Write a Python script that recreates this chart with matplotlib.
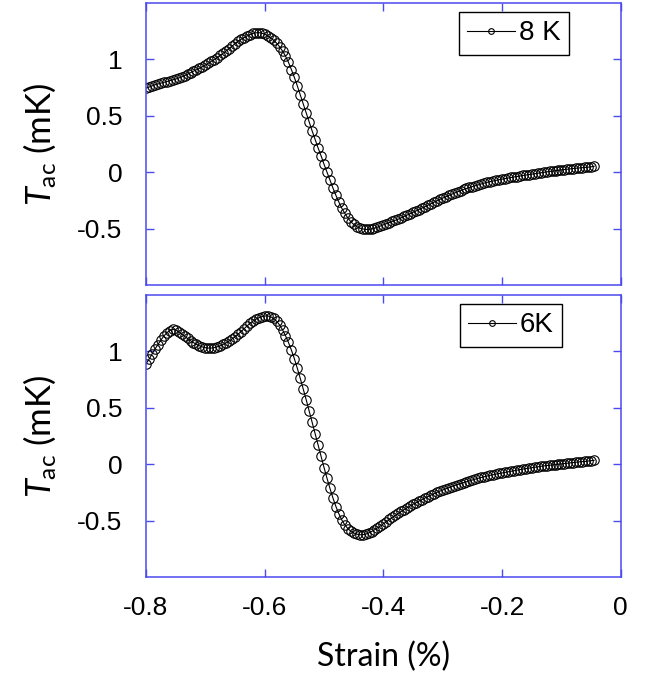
import matplotlib
matplotlib.use("Agg")
import matplotlib.pyplot as plt

plt.rcParams['axes.unicode_minus'] = False
plt.rcParams['mathtext.fontset'] = 'custom'
plt.rcParams['mathtext.rm'] = 'Lato'
plt.rcParams['mathtext.it'] = 'Lato:italic'

strain = [
    -0.800, -0.795, -0.790, -0.785, -0.780, -0.775, -0.770, -0.765, -0.760, -0.755,
    -0.750, -0.745, -0.740, -0.735, -0.730, -0.725, -0.720, -0.715, -0.710, -0.705,
    -0.700, -0.695, -0.690, -0.685, -0.680, -0.675, -0.670, -0.665, -0.660, -0.655,
    -0.650, -0.645, -0.640, -0.635, -0.630, -0.625, -0.620, -0.615, -0.610, -0.605,
    -0.600, -0.595, -0.590, -0.585, -0.580, -0.575, -0.570, -0.565, -0.560, -0.555,
    -0.550, -0.545, -0.540, -0.535, -0.530, -0.525, -0.520, -0.515, -0.510, -0.505,
    -0.500, -0.495, -0.490, -0.485, -0.480, -0.475, -0.470, -0.465, -0.460, -0.455,
    -0.450, -0.445, -0.440, -0.435, -0.430, -0.425, -0.420, -0.415, -0.410, -0.405,
    -0.400, -0.395, -0.390, -0.385, -0.380, -0.375, -0.370, -0.365, -0.360, -0.355,
    -0.350, -0.345, -0.340, -0.335, -0.330, -0.325, -0.320, -0.315, -0.310, -0.305,
    -0.300, -0.295, -0.290, -0.285, -0.280, -0.275, -0.270, -0.265, -0.260, -0.255,
    -0.250, -0.245, -0.240, -0.235, -0.230, -0.225, -0.220, -0.215, -0.210, -0.205,
    -0.200, -0.195, -0.190, -0.185, -0.180, -0.175, -0.170, -0.165, -0.160, -0.155,
    -0.150, -0.145, -0.140, -0.135, -0.130, -0.125, -0.120, -0.115, -0.110, -0.105,
    -0.100, -0.095, -0.090, -0.085, -0.080, -0.075, -0.070, -0.065, -0.060, -0.055,
    -0.050, -0.045,
]

tac_8K = [
    0.745, 0.755, 0.765, 0.775, 0.783, 0.790, 0.797, 0.804, 0.811, 0.818,
    0.826, 0.835, 0.845, 0.856, 0.868, 0.882, 0.896, 0.908, 0.921, 0.935,
    0.950, 0.966, 0.982, 0.998, 1.015, 1.035, 1.055, 1.075, 1.095, 1.118,
    1.140, 1.160, 1.178, 1.193, 1.207, 1.220, 1.230, 1.236, 1.238, 1.233,
    1.225, 1.210, 1.192, 1.170, 1.145, 1.113, 1.075, 1.030, 0.975, 0.910,
    0.840, 0.765, 0.685, 0.605, 0.525, 0.445, 0.365, 0.290, 0.215, 0.145,
    0.070, 0.000, -0.070, -0.140, -0.205, -0.265, -0.320, -0.365, -0.405, -0.438,
    -0.463, -0.482, -0.495, -0.503, -0.507, -0.507, -0.503, -0.496, -0.487, -0.476,
    -0.466, -0.456, -0.446, -0.436, -0.426, -0.416, -0.404, -0.392, -0.380, -0.368,
    -0.356, -0.344, -0.331, -0.318, -0.305, -0.292, -0.279, -0.266, -0.253, -0.241,
    -0.229, -0.217, -0.206, -0.195, -0.184, -0.173, -0.163, -0.153, -0.144, -0.135,
    -0.127, -0.119, -0.111, -0.103, -0.096, -0.089, -0.083, -0.077, -0.071, -0.066,
    -0.061, -0.056, -0.051, -0.046, -0.042, -0.038, -0.033, -0.029, -0.025, -0.021,
    -0.017, -0.013, -0.009, -0.005, -0.001, 0.003, 0.007, 0.010, 0.014, 0.017,
    0.021, 0.024, 0.027, 0.030, 0.033, 0.036, 0.038, 0.040, 0.043, 0.045,
    0.048, 0.053,
]

tac_6K = [
    0.890, 0.930, 0.975, 1.020, 1.060, 1.100, 1.135, 1.165, 1.185, 1.195,
    1.190, 1.175, 1.155, 1.135, 1.115, 1.095, 1.078, 1.062, 1.050, 1.040,
    1.033, 1.030, 1.030, 1.034, 1.041, 1.050, 1.062, 1.076, 1.092, 1.110,
    1.130, 1.152, 1.175, 1.200, 1.225, 1.248, 1.268, 1.285, 1.298, 1.308,
    1.314, 1.315, 1.308, 1.292, 1.268, 1.235, 1.192, 1.140, 1.080, 1.012,
    0.935, 0.850, 0.760, 0.665, 0.570, 0.470, 0.370, 0.270, 0.170, 0.070,
    -0.030, -0.125, -0.215, -0.300, -0.375, -0.440, -0.495, -0.538, -0.570, -0.594,
    -0.610, -0.620, -0.625, -0.625, -0.620, -0.610, -0.597, -0.582, -0.565, -0.547,
    -0.528, -0.509, -0.490, -0.472, -0.454, -0.436, -0.419, -0.402, -0.386, -0.370,
    -0.355, -0.341, -0.327, -0.313, -0.300, -0.287, -0.274, -0.262, -0.250, -0.239,
    -0.228, -0.218, -0.208, -0.198, -0.189, -0.180, -0.171, -0.163, -0.155, -0.147,
    -0.138, -0.131, -0.124, -0.117, -0.110, -0.104, -0.098, -0.092, -0.087, -0.082,
    -0.077, -0.072, -0.067, -0.062, -0.057, -0.052, -0.047, -0.043, -0.039, -0.035,
    -0.031, -0.027, -0.023, -0.019, -0.015, -0.012, -0.009, -0.006, -0.003, 0.000,
    0.003, 0.006, 0.009, 0.012, 0.015, 0.018, 0.021, 0.023, 0.025, 0.028,
    0.031, 0.035,
]

series_labels = ["8 K", "6K"]
x_ticks = [-0.8, -0.6, -0.4, -0.2, 0.0]
x_ticklabels = ["-0.8", "-0.6", "-0.4", "-0.2", "0"]
y_ticks = [-0.5, 0.0, 0.5, 1.0]
y_ticklabels = ["-0.5", "0", "0.5", "1"]

BLUE = '#4a4af0'
TICKFONT = 'Liberation Sans'
LABELFONT = 'Lato'

fig = plt.figure(figsize=(6.46, 6.77), dpi=100)
ax_top = fig.add_axes([0.226, 0.579, 0.735, 0.4165])
ax_bot = fig.add_axes([0.226, 0.1477, 0.735, 0.4165])

legend_anchor = [(0.8905, 0.968), (0.876, 0.968)]

for ax, data, lab, anc in zip([ax_top, ax_bot], [tac_8K, tac_6K], series_labels, legend_anchor):
    ax.plot(strain, data, color='black', lw=0.8, marker='o', ms=6.8,
            mfc='none', mec='black', mew=0.8, label=lab)
    ax.set_xlim(-0.8, 0.0)
    ax.set_ylim(-1.0, 1.5)
    ax.set_xticks(x_ticks)
    ax.set_yticks(y_ticks)
    ax.set_yticklabels(y_ticklabels, fontfamily=TICKFONT, fontsize=19)
    for s in ax.spines.values():
        s.set_color(BLUE)
        s.set_linewidth(1.1)
    ax.tick_params(direction='in', top=True, right=True, length=6, width=1.0,
                   color=BLUE, pad=17)
    ax.set_ylabel(r'$T_{\mathrm{ac}}$ (mK)', fontfamily=LABELFONT, fontsize=25)
    ax.yaxis.set_label_coords(-0.185, 0.5)
    leg = ax.legend(loc='upper right', bbox_to_anchor=anc, fancybox=False,
                    edgecolor='black', framealpha=1, handlelength=1.7,
                    markerscale=0.6, borderpad=0.3, handletextpad=0.15,
                    borderaxespad=0.0,
                    prop={'family': TICKFONT, 'size': 20})
    leg.get_frame().set_linewidth(1.0)

ax_top.set_xticklabels([])
ax_bot.set_xticklabels(x_ticklabels, fontfamily=TICKFONT, fontsize=19)
ax_bot.tick_params(axis='x', pad=14)
ax_bot.set_xlabel('Strain (%)', fontfamily=LABELFONT, fontsize=23, labelpad=15)

fig.savefig('out.png', dpi=100)
